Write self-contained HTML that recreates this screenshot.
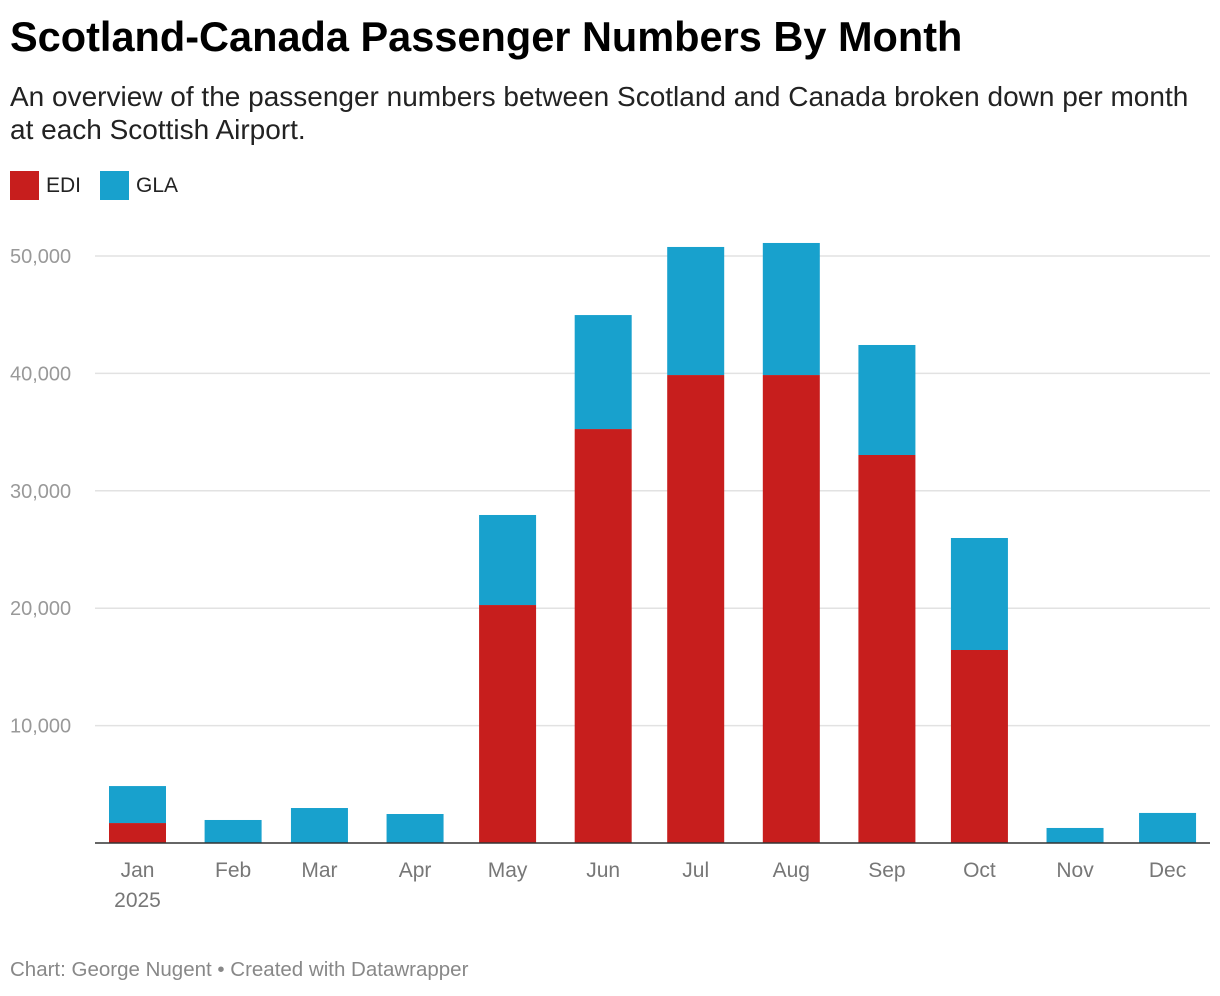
<!DOCTYPE html>
<html><head><meta charset="utf-8"><style>
body{margin:0;background:#fff;font-family:"Liberation Sans",Arial,sans-serif;width:1220px;height:996px;overflow:hidden;position:relative}
#title{position:absolute;left:10px;top:13px;font-size:41.5px;font-weight:bold;color:#000;letter-spacing:0px;white-space:nowrap}
#sub{position:absolute;left:10px;top:80px;font-size:28px;color:#222;line-height:33px;width:1210px;white-space:nowrap}
.leg{position:absolute;top:171px;font-size:21px;color:#222;display:flex;align-items:center}
.sw{width:29px;height:29px;margin-right:7px;display:inline-block}
#foot{position:absolute;left:10px;top:958px;font-size:20.5px;color:#888}
</style></head><body>
<div id="title">Scotland-Canada Passenger Numbers By Month</div>
<div id="sub">An overview of the passenger numbers between Scotland and Canada broken down per month<br>at each Scottish Airport.</div>
<div class="leg" style="left:10px"><span class="sw" style="background:#c71e1d"></span>EDI</div>
<div class="leg" style="left:100px"><span class="sw" style="background:#18a1cd"></span>GLA</div>
<svg id="chart" width="1220" height="996" style="position:absolute;left:0;top:0"></svg>
<div id="foot">Chart: George Nugent • Created with Datawrapper</div>
<script>
const months=["Jan","Feb","Mar","Apr","May","Jun","Jul","Aug","Sep","Oct","Nov","Dec"];
const edi=[1700,0,0,0,20270,35260,39860,39860,33050,16440,0,0];
const gla=[3150,1960,2980,2470,7670,9710,10910,11250,9370,9540,1280,2560];
const yTicks=[10000,20000,30000,40000,50000];
const yLabels=["10,000","20,000","30,000","40,000","50,000"];
const ns="http://www.w3.org/2000/svg",svg=document.getElementById('chart');
const y0=843,pxPer=587/50000;
const y=v=>y0-v*pxPer;
const x=i=>{const d=(Date.UTC(2025,i,1)-Date.UTC(2025,0,1))/864e5;return 109+d*3.084;};
const bw=57;
function mk(t,a){const e=document.createElementNS(ns,t);for(const k in a)e.setAttribute(k,a[k]);svg.appendChild(e);return e;}
yTicks.forEach((v,i)=>{
 const g=mk('line',{x1:95,x2:1210,y1:y(v),y2:y(v),stroke:'#e2e2e2','stroke-width':1.5});
 
 
 const t=mk('text',{x:10,y:y(v)+7,'font-size':20,fill:'#999','font-family':'Liberation Sans, sans-serif'});
 t.textContent=yLabels[i];
 
 
});
months.forEach((m,i)=>{
 const xl=x(i);
 if(edi[i]>0){const r=mk('rect',{x:xl,y:y(edi[i]),width:bw,height:edi[i]*pxPer,fill:'#c71e1d'});
 
 }
 const r2=mk('rect',{x:xl,y:y(edi[i]+gla[i]),width:bw,height:gla[i]*pxPer,fill:'#18a1cd'});
 
 
 const t=mk('text',{x:xl+bw/2,y:877,'font-size':21,fill:'#777','text-anchor':'middle','font-family':'Liberation Sans, sans-serif'});
 t.textContent=m;
 
 
 if(i===0){const t2=mk('text',{x:xl+bw/2,y:907,'font-size':21,fill:'#777','text-anchor':'middle','font-family':'Liberation Sans, sans-serif'});t2.textContent='2025';
 
 }
});
const ax=mk('line',{x1:95,x2:1210,y1:y0,y2:y0,stroke:'#333','stroke-width':1.5});


</script>
</body></html>
